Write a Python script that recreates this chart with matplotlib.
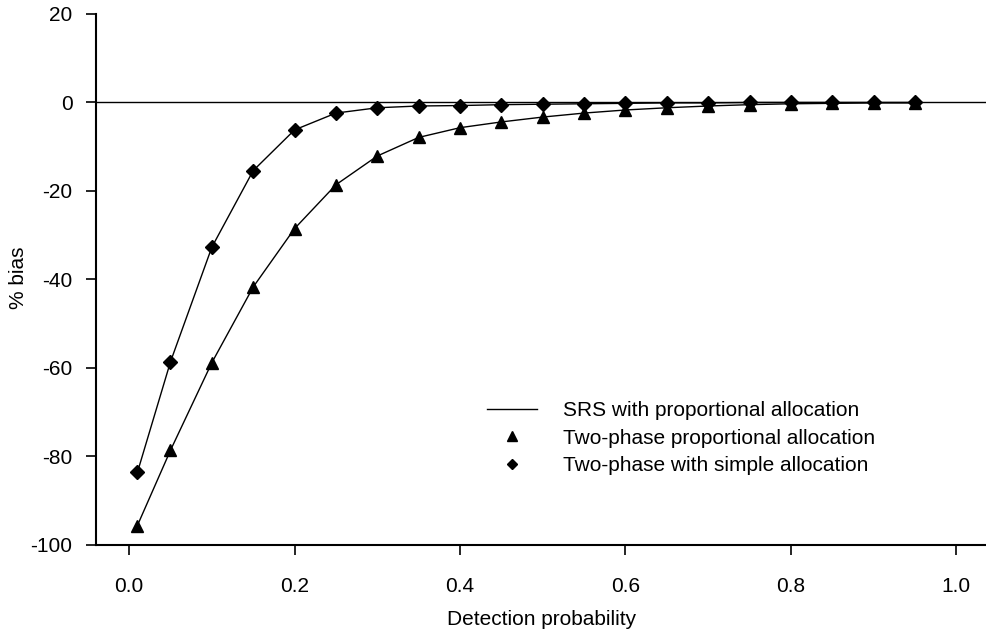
import numpy as np
import matplotlib.pyplot as plt

plt.rcParams['font.family'] = ['Liberation Sans', 'DejaVu Sans']
plt.rcParams['axes.unicode_minus'] = False

# detection probabilities
p = [0.01, 0.05, 0.10, 0.15, 0.20, 0.25, 0.30, 0.35, 0.40, 0.45,
     0.50, 0.55, 0.60, 0.65, 0.70, 0.75, 0.80, 0.85, 0.90, 0.95]

# % bias, two-phase proportional allocation (triangles)
bias_prop = [-95.6, -78.6, -58.8, -41.7, -28.5, -18.6, -12.1, -7.9, -5.7, -4.4,
             -3.3, -2.4, -1.7, -1.2, -0.8, -0.5, -0.3, -0.2, -0.1, -0.1]

# % bias, two-phase with simple allocation (diamonds)
bias_simple = [-83.6, -58.6, -32.7, -15.4, -6.2, -2.4, -1.2, -0.8, -0.7, -0.5,
               -0.4, -0.3, -0.2, -0.1, -0.1, 0.0, 0.0, 0.0, 0.0, 0.0]

# SRS with proportional allocation
srs_bias = 0.0

fig = plt.figure(figsize=(9.87, 6.34), dpi=100)
ax = fig.add_axes([0.0973, 0.1404, 0.9027, 0.8376])

ax.axhline(srs_bias, color='black', lw=1.0, label='SRS with proportional allocation')
ax.plot(p, bias_prop, color='black', lw=1.0, marker='^', ms=8.5,
        linestyle='-', label='_nolegend_')
ax.plot(p, bias_simple, color='black', lw=1.0, marker='D', ms=7.5,
        linestyle='-', label='_nolegend_')

# legend entries: markers only
ax.plot([], [], 'k^', ms=7, label='Two-phase proportional allocation')
ax.plot([], [], 'kD', ms=5.5, label='Two-phase with simple allocation')

ax.set_xlim(-0.04, 1.037)
ax.set_ylim(-100, 20)
ax.set_xticks([0.0, 0.2, 0.4, 0.6, 0.8, 1.0])
ax.set_xticklabels(['0.0', '0.2', '0.4', '0.6', '0.8', '1.0'])
ax.set_yticks([-100, -80, -60, -40, -20, 0, 20])

for s in ['top', 'right']:
    ax.spines[s].set_visible(False)
for s in ['left', 'bottom']:
    ax.spines[s].set_linewidth(1.5)

ax.tick_params(axis='x', direction='out', length=7, width=1.2, pad=16, labelsize=15)
ax.tick_params(axis='y', direction='out', length=7, width=1.2, pad=10, labelsize=15)

ax.set_xlabel('Detection probability', fontsize=15)
ax.xaxis.set_label_coords(0.5, -0.122)
ax.set_ylabel('% bias', fontsize=15)
ax.yaxis.set_label_coords(-0.076, 0.503)

ax.legend(loc='upper left', bbox_to_anchor=(0.4934, 0.367),
          bbox_transform=fig.transFigure, frameon=False, fontsize=15,
          handlelength=2.4, handletextpad=1.25, labelspacing=0.4,
          borderaxespad=0, borderpad=0)

fig.savefig('out.png', dpi=100)
